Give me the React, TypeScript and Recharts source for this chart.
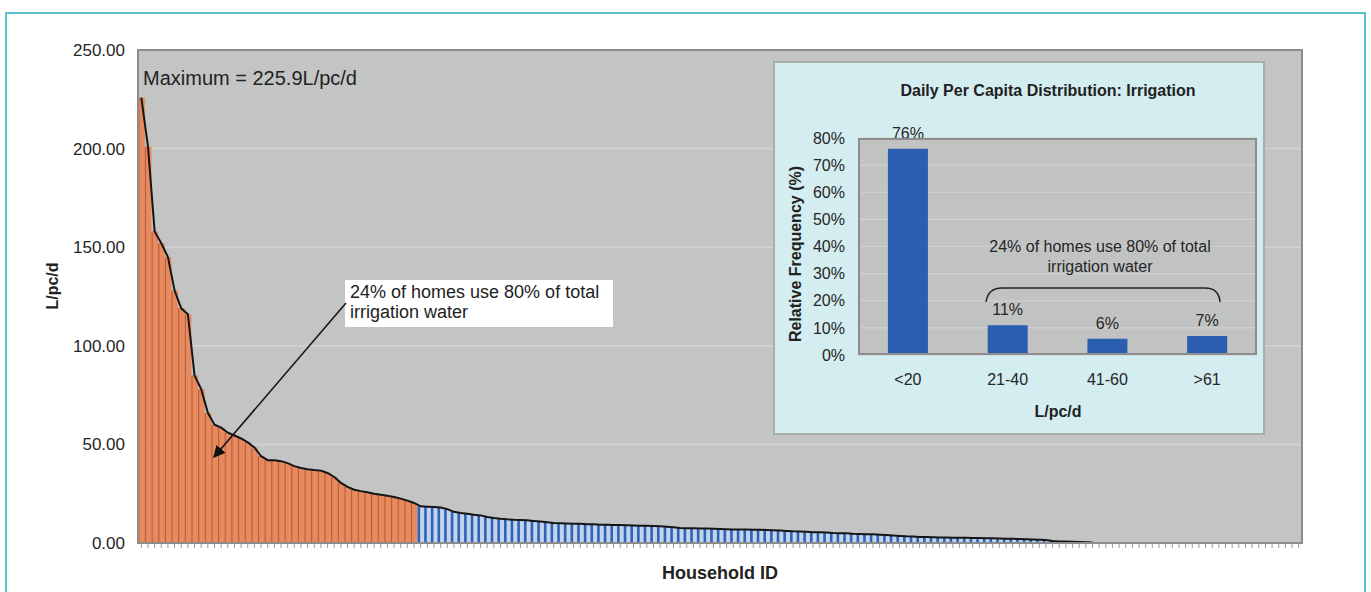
import React from 'react';
import { ComposedChart, BarChart, Bar, Line, XAxis, YAxis, CartesianGrid, LabelList } from 'recharts';

const FONT = '"Liberation Sans", Arial, Helvetica, sans-serif';

// Per-household irrigation use (L/pc/d), sorted descending
const usageValues: number[] = [
  225.9, 201, 158, 152, 145, 128, 119, 116, 85, 78,
  66, 60, 58.5, 56, 54.5, 53, 51, 48.5, 44, 42,
  42, 41.5, 40.5, 39, 38, 37.4, 37, 36.7, 35.5, 33.5,
  30.5, 28.5, 27, 26.3, 25.7, 25, 24.5, 24, 23.3, 22.5,
  21.5, 20.3,
  18.6, 18.4, 18.2, 18.0, 17.2, 15.8, 15.2, 14.8, 14.3, 14.0,
  13.2, 12.7, 12.3, 12.0, 11.8, 11.7, 11.5, 11.2, 10.9, 10.5,
  10.1, 10.0, 9.9, 9.8, 9.7, 9.5, 9.5, 9.3, 9.2, 9.1,
  9.1, 9.0, 8.9, 8.8, 8.7, 8.6, 8.5, 8.3, 8.0, 7.6,
  7.5, 7.5, 7.4, 7.3, 7.2, 7.1, 7.0, 6.9, 6.8, 6.8,
  6.7, 6.7, 6.6, 6.5, 6.3, 6.1, 5.9, 5.8, 5.7, 5.5,
  5.4, 5.3, 5.1, 5.0, 4.9, 4.7, 4.6, 4.5, 4.4, 4.2,
  4.0, 3.8, 3.6, 3.4, 3.3, 3.1, 3.0, 2.9, 2.8, 2.8,
  2.7, 2.6, 2.6, 2.5, 2.5, 2.4, 2.4, 2.3, 2.2, 2.1,
  2.0, 1.9, 1.8, 1.7, 1.5, 1.0, 0.8, 0.7, 0.6, 0.5,
  0.4, 0.3,
  0, 0, 0, 0, 0, 0, 0, 0, 0, 0,
  0, 0, 0, 0, 0, 0, 0, 0, 0, 0,
  0, 0, 0, 0, 0, 0, 0, 0, 0, 0,
  0,
];
const topGroupSize = 42; // 24% of homes
const usageTicks = [0, 50, 100, 150, 200, 250];

// Inset histogram
const bins = ['<20', '21-40', '41-60', '>61'];
const binShares = [76, 11, 6, 7];
const shareTicks = [0, 10, 20, 30, 40, 50, 60, 70, 80];

const mainData = usageValues.map((v, i) => ({ id: i + 1, v, line: v > 0 ? v : null, top: i < topGroupSize }));
const insetData = bins.map((b, i) => ({ bin: b, f: binShares[i] }));

const PLOT_LEFT = 138;
const PLOT_TOP = 50;
const PLOT_W = 1164;
const PLOT_H = 493;
const BAND = PLOT_W / usageValues.length;

function HouseholdBar(props: any) {
  const { x, y, width, height, payload } = props;
  if (!height || height <= 0) return <g />;
  const cx = x + width / 2;
  const left = cx - BAND / 2;
  if (payload && payload.top) {
    return (
      <g>
        <rect x={left} y={y} width={BAND} height={height} fill="#E98A5E" />
        <rect x={left} y={y} width={1.2} height={height} fill="#BA5E3B" />
      </g>
    );
  }
  return (
    <g>
      <rect x={left} y={y} width={BAND} height={height} fill="#C2D3EC" />
      <rect x={left} y={y} width={2.6} height={height} fill="#2F63B8" />
    </g>
  );
}

const EmptyTick = () => <g />;

export default function App() {
  const insetLeft = 773;
  const insetTop = 61;
  const insetW = 492;
  const insetH = 374;
  return (
    <div style={{ position: 'absolute', left: 0, top: 0, width: 1371, height: 592, background: '#fff', overflow: 'hidden', fontFamily: FONT }}>
      <div style={{ position: 'absolute', left: 5, top: 12, width: 1361, height: 640, border: '2px solid #5BC1C9', boxSizing: 'border-box' }} />
      <div style={{ position: 'absolute', left: 0, top: 0 }}>
        <ComposedChart
          width={1371}
          height={592}
          data={mainData}
          margin={{ top: PLOT_TOP, right: 1371 - PLOT_LEFT - PLOT_W, bottom: 592 - PLOT_TOP - PLOT_H - 10, left: PLOT_LEFT - 80 }}
          barCategoryGap={0}
          barGap={0}
        >
          <CartesianGrid vertical={false} fill="#C3C5C4" stroke="#D2D4D3" strokeWidth={1.5} />
          <XAxis dataKey="id" interval={0} tick={EmptyTick} tickLine={{ stroke: '#999' }} tickSize={5} axisLine={false} height={10} />
          <YAxis
            domain={[0, 250]}
            ticks={usageTicks}
            tickFormatter={(v: number) => v.toFixed(2)}
            width={80}
            axisLine={false}
            tickLine={false}
            tickMargin={7}
            tick={{ fontSize: 17, fill: '#262626', fontFamily: FONT }}
          />
          <Bar dataKey="v" shape={HouseholdBar} isAnimationActive={false} />
          <Line type="linear" dataKey="line" stroke="#151515" strokeWidth={2} dot={false} activeDot={false} isAnimationActive={false} connectNulls={false} />
        </ComposedChart>
      </div>
      <svg width={1371} height={592} style={{ position: 'absolute', left: 0, top: 0, pointerEvents: 'none' }}>
        <defs>
          <marker id="arrowHead" viewBox="0 0 10 10" refX="9" refY="5" markerWidth="8" markerHeight="8" orient="auto-start-reverse">
            <path d="M0,0 L10,5 L0,10 z" fill="#111" />
          </marker>
        </defs>
        <rect x={PLOT_LEFT} y={PLOT_TOP} width={PLOT_W} height={PLOT_H} fill="none" stroke="#8C8C8C" strokeWidth={2} />
        <text x={143} y={85} fontSize={20} fill="#222" fontFamily={FONT}>Maximum = 225.9L/pc/d</text>
        <rect x={345} y={280} width={268} height={47} fill="#fff" />
        <text x={350} y={298} fontSize={18} fill="#222" fontFamily={FONT}>24% of homes use 80% of total</text>
        <text x={350} y={318} fontSize={18} fill="#222" fontFamily={FONT}>irrigation water</text>
        <line x1={346} y1={303} x2={214} y2={457} stroke="#111" strokeWidth={1.5} markerEnd="url(#arrowHead)" />
        <text x={0} y={0} transform="translate(58,286) rotate(-90)" textAnchor="middle" fontSize={16} fontWeight="bold" fill="#222" fontFamily={FONT}>L/pc/d</text>
        <text x={720} y={579} textAnchor="middle" fontSize={18} fontWeight="bold" fill="#222" fontFamily={FONT}>Household ID</text>
      </svg>

      <div style={{ position: 'absolute', left: insetLeft, top: insetTop, width: insetW, height: insetH }}>
        <div style={{ position: 'absolute', left: 0, top: 0, width: insetW, height: insetH, background: '#D4EDF1', border: '2px solid #A9ADAE', boxSizing: 'border-box' }} />
        <div style={{ position: 'absolute', left: 0, top: 0 }}>
          <BarChart
            width={insetW}
            height={insetH}
            data={insetData}
            margin={{ top: 77, right: 8, bottom: 50, left: 25 }}
            barCategoryGap="30%"
          >
            <CartesianGrid vertical={false} fill="#C1C3C3" stroke="#D0D2D2" strokeWidth={1.2} />
            <XAxis dataKey="bin" axisLine={false} tickLine={false} tickMargin={13} height={30} tick={{ fontSize: 16, fill: '#262626', fontFamily: FONT }} />
            <YAxis
              domain={[0, 80]}
              ticks={shareTicks}
              tickFormatter={(v: number) => `${v}%`}
              width={60}
              axisLine={false}
              tickLine={false}
              tickMargin={7}
              tick={{ fontSize: 16, fill: '#262626', fontFamily: FONT }}
            />
            <Bar dataKey="f" fill="#2B5DB1" isAnimationActive={false}>
              <LabelList dataKey="f" position="top" offset={10} formatter={(v: any) => `${v}%`} style={{ fontSize: 16, fill: '#262626', fontFamily: FONT }} />
            </Bar>
          </BarChart>
        </div>
        <div style={{ position: 'absolute', left: 85, top: 77, width: 399, height: 217, border: '2px solid #8D8D8D', boxSizing: 'border-box', pointerEvents: 'none' }} />
        <svg width={insetW} height={insetH} style={{ position: 'absolute', left: 0, top: 0, pointerEvents: 'none' }}>
          <text x={1048 - insetLeft} y={96 - insetTop} textAnchor="middle" fontSize={16} fontWeight="bold" fill="#222" fontFamily={FONT}>Daily Per Capita Distribution: Irrigation</text>
          <text x={0} y={0} transform={`translate(${801 - insetLeft},${254 - insetTop}) rotate(-90)`} textAnchor="middle" fontSize={16} fontWeight="bold" fill="#222" fontFamily={FONT}>Relative Frequency (%)</text>
          <text x={1058 - insetLeft} y={417 - insetTop} textAnchor="middle" fontSize={16} fontWeight="bold" fill="#222" fontFamily={FONT}>L/pc/d</text>
          <text x={1100 - insetLeft} y={252 - insetTop} textAnchor="middle" fontSize={16} fill="#262626" fontFamily={FONT}>24% of homes use 80% of total</text>
          <text x={1100 - insetLeft} y={272 - insetTop} textAnchor="middle" fontSize={16} fill="#262626" fontFamily={FONT}>irrigation water</text>
          <path d={`M ${986 - insetLeft} ${302 - insetTop} Q ${988 - insetLeft} ${288 - insetTop} ${1002 - insetLeft} ${288 - insetTop} L ${1205 - insetLeft} ${288 - insetTop} Q ${1219 - insetLeft} ${288 - insetTop} ${1220 - insetLeft} ${302 - insetTop}`} fill="none" stroke="#222" strokeWidth={1.5} />
        </svg>
      </div>
    </div>
  );
}
